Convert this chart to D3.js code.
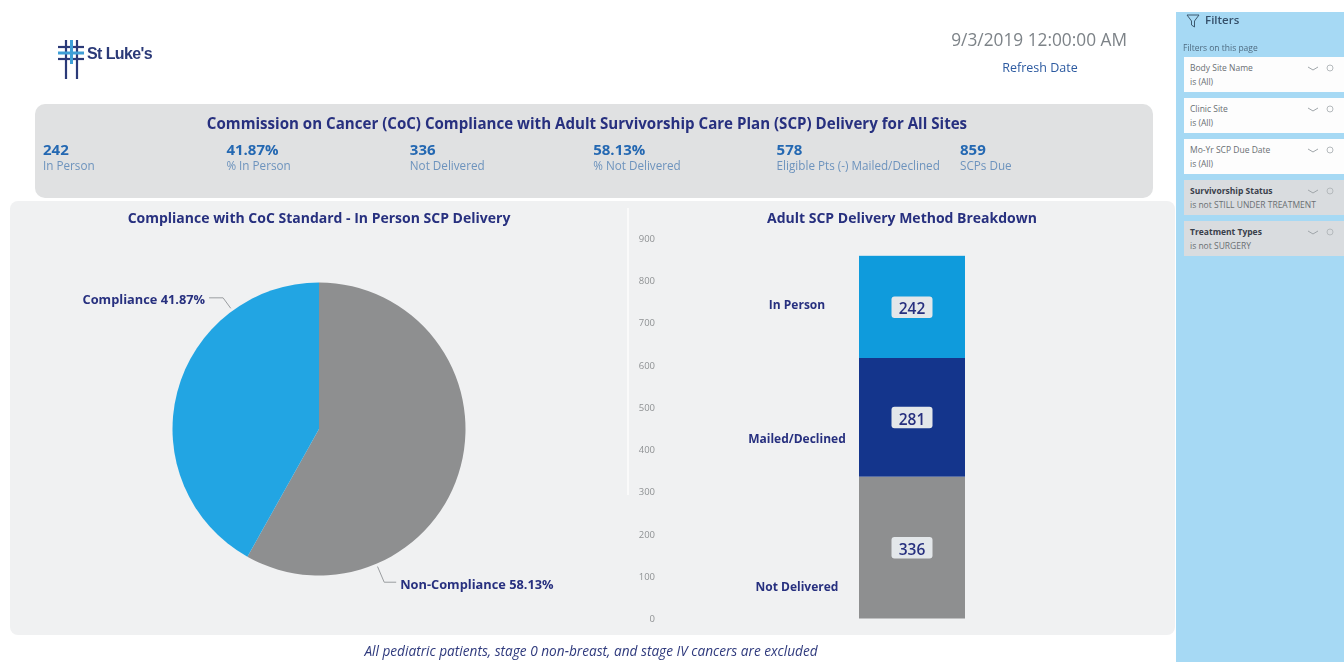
<!DOCTYPE html>
<html>
<head>
<meta charset="utf-8">
<script src="https://cdnjs.cloudflare.com/ajax/libs/d3/7.8.5/d3.min.js"></script>
<style>
  html, body { margin: 0; padding: 0; background: #fff; overflow: hidden; }
  svg { display: block; filter: blur(0.45px); }
  text { font-family: "Open Sans", "Noto Sans", sans-serif; }
</style>
</head>
<body>
<svg id="chart" width="1344" height="662"></svg>
<script>
var kpiValues = ["242", "41.87%", "336", "58.13%", "578", "859"]
var kpiLabels = ["In Person", "% In Person", "Not Delivered", "% Not Delivered", "Eligible Pts (-) Mailed/Declined", "SCPs Due"]

var pieNames = ["Non-Compliance", "Compliance"]
var pieValues = [58.13, 41.87]

var barNames = ["Not Delivered", "Mailed/Declined", "In Person"]
var barValues = [336, 281, 242]
var barTicks = [0, 100, 200, 300, 400, 500, 600, 700, 800, 900]

var filterNames = ["Body Site Name", "Clinic Site", "Mo-Yr SCP Due Date", "Survivorship Status", "Treatment Types"]
var filterStates = ["is (All)", "is (All)", "is (All)", "is not STILL UNDER TREATMENT", "is not SURGERY"]

var navy = "#27307f"
var kpiBlue = "#2468b2"
var paleBlue = "#6d93bd"
var sky = "#22a5e3"
var barSky = "#0f9bdc"
var deep = "#14358c"
var grey = "#8e8f90"

var svg = d3.select("#chart")

// backgrounds
svg.append("rect").attr("x", 1176).attr("y", 12).attr("width", 168).attr("height", 650).attr("fill", "#a6d9f4")
svg.append("rect").attr("x", 35).attr("y", 104).attr("width", 1118).attr("height", 94).attr("rx", 10).attr("fill", "#e0e1e2")
svg.append("rect").attr("x", 10).attr("y", 201).attr("width", 1165).attr("height", 434).attr("rx", 8).attr("fill", "#f0f1f2")
svg.append("line").attr("x1", 628).attr("x2", 628).attr("y1", 208).attr("y2", 495).attr("stroke", "#fafafa").attr("stroke-width", 2)

// logo
var darkLogo = "#2b3a78", lightLogo = "#3f9fd6"
var logo = svg.append("g")
;[66, 77].forEach(function (lx) {
  logo.append("line").attr("x1", lx).attr("y1", 40).attr("x2", lx).attr("y2", 79).attr("stroke", darkLogo).attr("stroke-width", 2.2)
})
;[47, 59].forEach(function (ly) {
  logo.append("line").attr("x1", 58).attr("y1", ly).attr("x2", 84).attr("y2", ly).attr("stroke", darkLogo).attr("stroke-width", 2.2)
})
logo.append("line").attr("x1", 58).attr("y1", 53).attr("x2", 84).attr("y2", 53).attr("stroke", lightLogo).attr("stroke-width", 3)
logo.append("line").attr("x1", 71.5).attr("y1", 40).attr("x2", 71.5).attr("y2", 64).attr("stroke", lightLogo).attr("stroke-width", 3)
svg.append("text").attr("x", 87).attr("y", 59).attr("font-size", 16).attr("font-weight", 700)
  .attr("letter-spacing", -0.6).attr("fill", darkLogo).style("font-family", "Liberation Sans").text("St Luke's")

// refresh date
svg.append("text").attr("x", 1127).attr("y", 46).attr("text-anchor", "end").attr("font-size", 17.3).attr("fill", "#7d8388").text("9/3/2019 12:00:00 AM")
svg.append("text").attr("x", 1040).attr("y", 72).attr("text-anchor", "middle").attr("font-size", 12.5).attr("fill", "#2c5aa0").text("Refresh Date")

// header band
svg.append("text").attr("x", 587).attr("y", 129).attr("text-anchor", "middle").attr("font-size", 15.1).attr("font-weight", 700).attr("fill", navy)
  .text("Commission on Cancer (CoC) Compliance with Adult Survivorship Care Plan (SCP) Delivery for All Sites")

var kpiX = d3.scalePoint().domain(d3.range(kpiValues.length)).range([43, 960])
var kpi = svg.append("g").selectAll("g").data(kpiValues).enter().append("g")
  .attr("transform", (d, i) => "translate(" + kpiX(i) + ",0)")
kpi.append("text").attr("y", 155).attr("font-size", 15).attr("font-weight", 700).attr("fill", kpiBlue).text(d => d)
kpi.append("text").attr("y", 170).attr("font-size", 11.7).attr("fill", paleBlue).text((d, i) => kpiLabels[i])

// pie
svg.append("text").attr("x", 319).attr("y", 223).attr("text-anchor", "middle").attr("font-size", 14).attr("font-weight", 700).attr("fill", navy)
  .text("Compliance with CoC Standard - In Person SCP Delivery")

var pieColor = d3.scaleOrdinal().domain(pieNames).range([grey, sky])
var pieRadius = 146.5
var pieData = d3.pie().sort(null)(pieValues)
var arc = d3.arc().innerRadius(0).outerRadius(pieRadius)
var pieG = svg.append("g").attr("transform", "translate(319,429)")
pieG.selectAll("path").data(pieData).enter().append("path")
  .attr("d", arc)
  .attr("fill", (d, i) => pieColor(pieNames[i]))

// leader sits part way along each slice, not at its middle
var leaderAt = [0.75, 0.76]
var leaderOut = [20, 16]
var leaderRun = [12, -14]
pieData.forEach(function (d, i) {
  var a = d.startAngle + (d.endAngle - d.startAngle) * leaderAt[i]
  var sx = Math.sin(a) * (pieRadius + 3), sy = -Math.cos(a) * (pieRadius + 3)
  var mx = Math.sin(a) * (pieRadius + leaderOut[i]), my = -Math.cos(a) * (pieRadius + leaderOut[i])
  var ex = mx + leaderRun[i]
  pieG.append("polyline").attr("fill", "none").attr("stroke", "#9a9da0").attr("stroke-width", 1)
    .attr("points", [[sx, sy], [mx, my], [ex, my]].join(" "))
  pieG.append("text")
    .attr("x", i == 0 ? ex + 4 : ex - 4).attr("y", my + 6.5)
    .attr("text-anchor", i == 0 ? "start" : "end")
    .attr("font-size", 12.8).attr("font-weight", 700).attr("fill", navy)
    .text(pieNames[i] + " " + pieValues[i].toFixed(2) + "%")
})

// stacked bar
svg.append("text").attr("x", 902).attr("y", 223).attr("text-anchor", "middle").attr("font-size", 14).attr("font-weight", 700).attr("fill", navy)
  .text("Adult SCP Delivery Method Breakdown")

var y = d3.scaleLinear().domain([0, 900]).range([618.5, 238.5])
var x = d3.scaleBand().domain(["all"]).range([859, 965])
var row = {}
barNames.forEach(function (n, i) { row[n] = barValues[i] })
var layers = d3.stack().keys(barNames)([row])
var barColor = d3.scaleOrdinal().domain(barNames).range([grey, deep, barSky])

var yAxis = d3.axisLeft(y).tickValues(barTicks).tickSize(0).tickPadding(0)
svg.append("g").attr("transform", "translate(655,0)").call(yAxis)
  .call(g => g.select(".domain").remove())
  .call(g => g.selectAll("text").attr("font-size", 9.5).attr("fill", "#8f9294").style("font-family", "Open Sans"))

var seg = svg.append("g").selectAll("g").data(layers).enter().append("g")
seg.append("rect")
  .attr("x", x("all")).attr("width", x.bandwidth())
  .attr("y", d => y(d[0][1]))
  .attr("height", d => y(d[0][0]) - y(d[0][1]))
  .attr("fill", d => barColor(d.key))

var catShift = { "In Person": -2, "Mailed/Declined": 22, "Not Delivered": 39 }
seg.append("text")
  .attr("x", 797)
  .attr("y", d => (y(d[0][0]) + y(d[0][1])) / 2 + catShift[d.key] + 4)
  .attr("text-anchor", "middle").attr("font-size", 12).attr("font-weight", 700).attr("fill", navy)
  .text(d => d.key)
seg.append("rect")
  .attr("x", 891.5).attr("width", 41).attr("height", 21.5).attr("rx", 3)
  .attr("y", d => (y(d[0][0]) + y(d[0][1])) / 2 - 10.5)
  .attr("fill", "#e3e7ea")
seg.append("text")
  .attr("x", 912)
  .attr("y", d => (y(d[0][0]) + y(d[0][1])) / 2 + 7.5)
  .attr("text-anchor", "middle").attr("font-size", 15.5).attr("font-weight", 600).attr("fill", navy)
  .text(d => d[0][1] - d[0][0])

// footnote
svg.append("text").attr("x", 591).attr("y", 656).attr("text-anchor", "middle").attr("font-size", 13.65).attr("font-style", "italic").attr("fill", "#2f3a7d")
  .text("All pediatric patients, stage 0 non-breast, and stage IV cancers are excluded")

// filter pane
var pane = svg.append("g")
pane.append("path").attr("d", "M1187 15h12l-4.5 6v6l-3 -2v-4z").attr("fill", "none").attr("stroke", "#3d5a70").attr("stroke-width", 1)
pane.append("text").attr("x", 1205).attr("y", 24).attr("font-size", 11.5).attr("font-weight", 600).attr("fill", "#35506a").text("Filters")
pane.append("text").attr("x", 1183).attr("y", 51).attr("font-size", 8.5).attr("fill", "#4f6b80").text("Filters on this page")

var cardY = d3.scaleBand().domain(filterNames).range([57, 256]).paddingInner(0.146).paddingOuter(0)
var card = pane.selectAll("g.card").data(filterNames).enter().append("g").attr("class", "card")
  .attr("transform", d => "translate(1184," + cardY(d) + ")")
card.append("rect").attr("width", 160).attr("height", cardY.bandwidth())
  .attr("fill", (d, i) => i < 3 ? "#fdfdfd" : "#d9dcdf")
card.append("text").attr("x", 6).attr("y", 14).attr("font-size", 8.5)
  .attr("font-weight", (d, i) => i < 3 ? 400 : 700)
  .attr("fill", (d, i) => i < 3 ? "#6a6f73" : "#39404a")
  .text(d => d)
card.append("text").attr("x", 6).attr("y", 28).attr("font-size", 8.5)
  .attr("fill", "#6a6f73").text((d, i) => filterStates[i])
card.append("path").attr("d", "M124 10l5 3l5 -3").attr("fill", "none").attr("stroke", "#a0a6aa").attr("stroke-width", 1)
card.append("circle").attr("cx", 146).attr("cy", 11).attr("r", 3).attr("fill", "none").attr("stroke", "#b5babd")
</script>
</body>
</html>
